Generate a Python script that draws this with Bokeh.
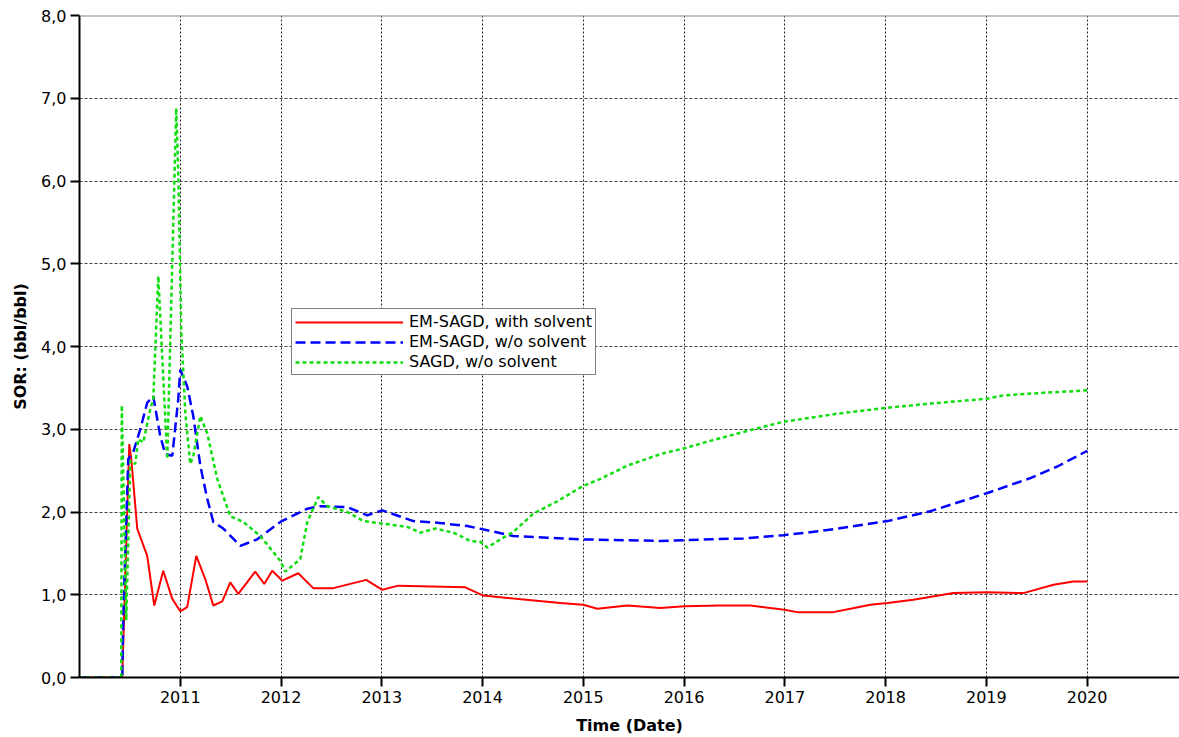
from bokeh.plotting import figure
from bokeh.models import Range1d, FixedTicker, Legend, LegendItem, Span
from bokeh.embed import file_html
from bokeh.resources import INLINE

# ---- data (decimal years, SOR in bbl/bbl) ----
red_year = [2010.00, 2010.424, 2010.494, 2010.514, 2010.573, 2010.672, 2010.742, 2010.831, 2010.921,
            2011.000, 2011.069, 2011.159, 2011.248, 2011.328, 2011.417, 2011.496, 2011.576, 2011.744,
            2011.834, 2011.913, 2012.013, 2012.171, 2012.320, 2012.519, 2012.846, 2013.005, 2013.164,
            2013.829, 2014.008, 2014.772, 2015.000, 2015.139, 2015.437, 2015.765, 2016.003, 2016.360,
            2016.658, 2016.996, 2017.125, 2017.482, 2017.651, 2017.849, 2018.018, 2018.276, 2018.673,
            2019.011, 2019.368, 2019.666, 2019.864, 2020.003]
red_sor = [0, 0, 2.82, 2.64, 1.80, 1.47, 0.87, 1.29, 0.95,
           0.80, 0.85, 1.47, 1.19, 0.87, 0.92, 1.15, 1.01, 1.28,
           1.13, 1.29, 1.17, 1.26, 1.08, 1.08, 1.18, 1.06, 1.11,
           1.09, 0.99, 0.90, 0.88, 0.83, 0.87, 0.84, 0.86, 0.87,
           0.87, 0.82, 0.79, 0.79, 0.83, 0.88, 0.90, 0.94, 1.02,
           1.03, 1.02, 1.12, 1.16, 1.16]

blue_year = [2010.00, 2010.424, 2010.434, 2010.484, 2010.533, 2010.603, 2010.672, 2010.732, 2010.801,
             2010.851, 2010.921, 2010.980, 2011.000, 2011.069, 2011.129, 2011.199, 2011.268, 2011.328,
             2011.427, 2011.596, 2011.764, 2011.993, 2012.261, 2012.390, 2012.658, 2012.856, 2013.005,
             2013.313, 2013.551, 2013.849, 2014.047, 2014.306, 2014.643, 2014.971, 2015.765, 2016.261,
             2016.589, 2016.986, 2017.284, 2017.532, 2018.018, 2018.445, 2019.011, 2019.437, 2019.705,
             2020.003]
blue_sor = [0, 0, 0.71, 2.64, 2.72, 3.00, 3.32, 3.40, 2.92,
            2.70, 2.68, 3.36, 3.72, 3.52, 3.16, 2.56, 2.16, 1.88,
            1.80, 1.59, 1.67, 1.88, 2.04, 2.07, 2.06, 1.96, 2.02,
            1.89, 1.87, 1.83, 1.78, 1.71, 1.69, 1.67, 1.65, 1.67,
            1.68, 1.72, 1.76, 1.80, 1.89, 2.01, 2.23, 2.41, 2.55,
            2.74]

green_year = [2010.00, 2010.414, 2010.420, 2010.464, 2010.504, 2010.553, 2010.583, 2010.633, 2010.702,
              2010.732, 2010.782, 2010.871, 2010.960, 2010.980, 2011.010, 2011.050, 2011.099, 2011.129,
              2011.199, 2011.268, 2011.367, 2011.496, 2011.625, 2011.794, 2011.993, 2012.042, 2012.191,
              2012.261, 2012.370, 2012.459, 2012.658, 2012.817, 2013.005, 2013.253, 2013.382, 2013.531,
              2013.710, 2013.879, 2013.978, 2014.048, 2014.177, 2014.306, 2014.504, 2014.742, 2014.991,
              2015.169, 2015.437, 2015.765, 2016.003, 2016.261, 2016.628, 2016.986, 2017.532, 2018.018,
              2018.445, 2019.011, 2019.170, 2019.567, 2020.003]
green_sor = [0, 0, 3.29, 0.69, 2.62, 2.58, 2.88, 2.84, 3.24,
             3.36, 4.85, 2.64, 6.88, 6.10, 4.20, 3.20, 2.58, 2.67,
             3.16, 2.95, 2.40, 1.95, 1.88, 1.71, 1.41, 1.28, 1.43,
             1.88, 2.18, 2.07, 2.00, 1.89, 1.86, 1.82, 1.75, 1.80,
             1.75, 1.65, 1.64, 1.57, 1.67, 1.76, 1.98, 2.13, 2.31,
             2.40, 2.56, 2.70, 2.77, 2.86, 2.98, 3.09, 3.19, 3.26,
             3.31, 3.37, 3.41, 3.44, 3.47]

series_names = ["EM-SAGD, with solvent", "EM-SAGD, w/o solvent", "SAGD, w/o solvent"]

year_ticks = [2011, 2012, 2013, 2014, 2015, 2016, 2017, 2018, 2019, 2020]
year_labels = ["2011", "2012", "2013", "2014", "2015", "2016", "2017", "2018", "2019", "2020"]
sor_ticks = [0, 1, 2, 3, 4, 5, 6, 7, 8]
sor_labels = ["0,0", "1,0", "2,0", "3,0", "4,0", "5,0", "6,0", "7,0", "8,0"]

FONT = "DejaVu Sans"

p = figure(width=1179, height=737, output_backend="svg", toolbar_location=None,
           x_range=Range1d(2010.0, 2020.917), y_range=Range1d(0, 8),
           min_border_left=79, min_border_top=15, min_border_right=0, min_border_bottom=58)
p.outline_line_color = None
p.background_fill_color = "white"
p.border_fill_color = "white"

# axes
for ax in (p.xaxis[0], p.yaxis[0]):
    ax.axis_line_color = "black"
    ax.axis_line_width = 2
    ax.major_tick_line_color = "black"
    ax.major_tick_line_width = 2
    ax.major_tick_out = 9
    ax.major_tick_in = 0
    ax.minor_tick_line_color = None
    ax.major_label_text_font = FONT
    ax.major_label_text_font_size = "16px"
    ax.major_label_text_color = "black"
    ax.axis_label_text_font = FONT
    ax.axis_label_text_font_size = "16px"
    ax.axis_label_text_font_style = "bold"
    ax.axis_label_text_color = "black"

p.xaxis.ticker = FixedTicker(ticks=year_ticks)
p.xaxis.major_label_overrides = {t: l for t, l in zip(year_ticks, year_labels)}
p.yaxis.ticker = FixedTicker(ticks=sor_ticks)
p.yaxis.major_label_overrides = {t: l for t, l in zip(sor_ticks, sor_labels)}
p.xaxis.axis_label = "Time (Date)"
p.yaxis.axis_label = "SOR: (bbl/bbl)"
p.xaxis.major_label_standoff = 4
p.xaxis.axis_label_standoff = 10
p.yaxis.major_label_standoff = 4
p.yaxis.axis_label_standoff = 8

# grids
p.xgrid.grid_line_color = "#222222"
p.xgrid.grid_line_dash = "2 2"
p.xgrid.grid_line_width = 1
p.ygrid.grid_line_color = "#444444"
p.ygrid.grid_line_dash = "3 2"
p.ygrid.grid_line_width = 1

# top border line
p.add_layout(Span(location=8, dimension="width", line_color="#888888", line_width=2))

r_red = p.line(red_year, red_sor, line_color="#FF0000", line_width=2)
r_blue = p.line(blue_year, blue_sor, line_color="#0000FF", line_width=2.5, line_dash="10 5")
r_green = p.line(green_year, green_sor, line_color="#11DD11", line_width=2.5, line_dash="4 3")

legend = Legend(items=[LegendItem(label=series_names[0], renderers=[r_red]),
                       LegendItem(label=series_names[1], renderers=[r_blue]),
                       LegendItem(label=series_names[2], renderers=[r_green])],
                location=(212, 302))
legend.border_line_color = "black"
legend.border_line_width = 1
legend.background_fill_color = "white"
legend.background_fill_alpha = 1
legend.label_text_font = FONT
legend.label_text_font_size = "16px"
legend.label_text_color = "black"
legend.glyph_width = 108
legend.glyph_height = 18
legend.label_height = 18
legend.label_standoff = 6
legend.padding = 3
legend.spacing = 1
legend.margin = 0
p.add_layout(legend)

open("out.html", "w").write(file_html(p, INLINE))
